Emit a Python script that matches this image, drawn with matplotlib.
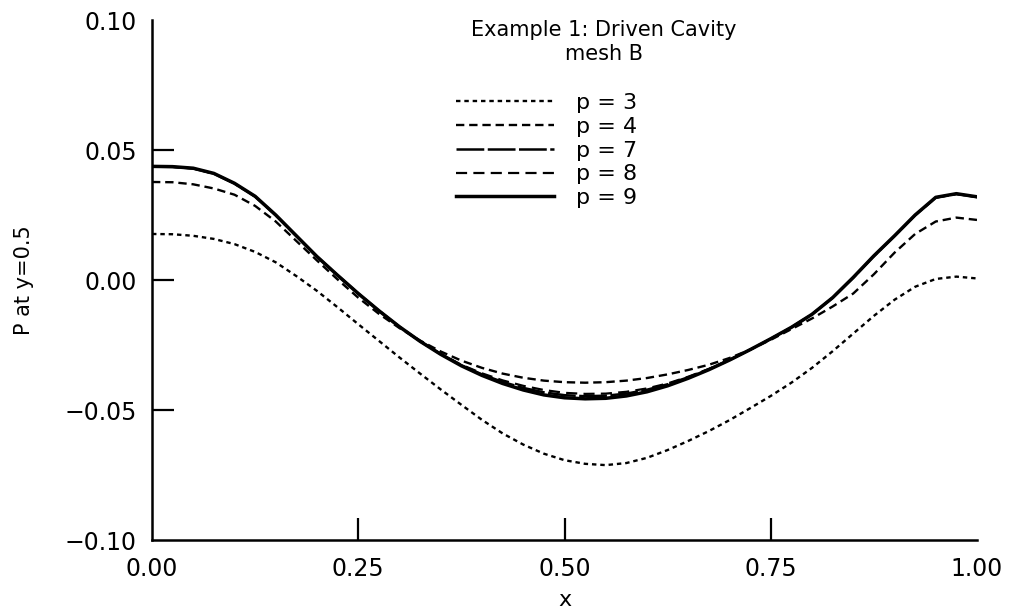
import matplotlib
matplotlib.use("Agg")
import matplotlib.pyplot as plt

plt.rcParams['font.family'] = ['DejaVu Sans']
plt.rcParams['lines.scale_dashes'] = False

x = [0.000, 0.025, 0.050, 0.075, 0.100, 0.125, 0.150, 0.175, 0.200, 0.225,
     0.250, 0.275, 0.300, 0.325, 0.350, 0.375, 0.400, 0.425, 0.450, 0.475,
     0.500, 0.525, 0.550, 0.575, 0.600, 0.625, 0.650, 0.675, 0.700, 0.725,
     0.750, 0.775, 0.800, 0.825, 0.850, 0.875, 0.900, 0.925, 0.950, 0.975, 1.000]

p3 = [0.0177, 0.0176, 0.0170, 0.0158, 0.0138, 0.0108, 0.0068, 0.0015, -0.0042, -0.0105,
      -0.0170, -0.0234, -0.0298, -0.0360, -0.0421, -0.0480, -0.0538, -0.0590, -0.0633, -0.0668,
      -0.0693, -0.0707, -0.0712, -0.0704, -0.0684, -0.0654, -0.0619, -0.0581, -0.0539, -0.0493,
      -0.0446, -0.0395, -0.0338, -0.0274, -0.0206, -0.0138, -0.0076, -0.0026, 0.0004, 0.0013, 0.0006]

p4 = [0.0377, 0.0376, 0.0368, 0.0352, 0.0328, 0.0285, 0.0225, 0.0150, 0.0075, 0.0002,
      -0.0068, -0.0130, -0.0185, -0.0233, -0.0275, -0.0310, -0.0338, -0.0360, -0.0376, -0.0387,
      -0.0393, -0.0395, -0.0393, -0.0387, -0.0377, -0.0363, -0.0346, -0.0326, -0.0300, -0.0268,
      -0.0230, -0.0189, -0.0148, -0.0102, -0.0052, 0.0022, 0.0105, 0.0177, 0.0225, 0.0240, 0.0231]

p7 = [0.0436, 0.0435, 0.0429, 0.0409, 0.0371, 0.0321, 0.0249, 0.0169, 0.0090, 0.0018,
      -0.0052, -0.0118, -0.0180, -0.0236, -0.0285, -0.0328, -0.0363, -0.0392, -0.0415, -0.0432,
      -0.0443, -0.0447, -0.0445, -0.0437, -0.0422, -0.0401, -0.0374, -0.0343, -0.0308, -0.0268,
      -0.0226, -0.0182, -0.0132, -0.0068, 0.0009, 0.0092, 0.0169, 0.0249, 0.0317, 0.0331, 0.0319]

p8 = [0.0436, 0.0435, 0.0429, 0.0409, 0.0371, 0.0321, 0.0249, 0.0169, 0.0090, 0.0018,
      -0.0052, -0.0118, -0.0180, -0.0236, -0.0284, -0.0326, -0.0359, -0.0386, -0.0407, -0.0423,
      -0.0434, -0.0438, -0.0437, -0.0430, -0.0417, -0.0398, -0.0372, -0.0342, -0.0307, -0.0268,
      -0.0226, -0.0182, -0.0132, -0.0068, 0.0009, 0.0092, 0.0169, 0.0249, 0.0317, 0.0331, 0.0319]

p9 = [0.0437, 0.0436, 0.0430, 0.0410, 0.0372, 0.0322, 0.0250, 0.0170, 0.0090, 0.0018,
      -0.0052, -0.0118, -0.0180, -0.0236, -0.0286, -0.0330, -0.0367, -0.0398, -0.0423, -0.0442,
      -0.0453, -0.0457, -0.0455, -0.0446, -0.0430, -0.0407, -0.0378, -0.0345, -0.0308, -0.0268,
      -0.0226, -0.0182, -0.0132, -0.0068, 0.0010, 0.0093, 0.0170, 0.0250, 0.0318, 0.0332, 0.0320]

series = [("p = 3", p3), ("p = 4", p4), ("p = 7", p7), ("p = 8", p8), ("p = 9", p9)]

x_ticks = [0.00, 0.25, 0.50, 0.75, 1.00]
x_ticklabels = ["0.00", "0.25", "0.50", "0.75", "1.00"]
y_ticks = [-0.10, -0.05, 0.00, 0.05, 0.10]
y_ticklabels = ["\u22120.10", "\u22120.05", "0.00", "0.05", "0.10"]

title_lines = ["Example 1: Driven Cavity", "mesh B"]
xlabel = "x"
ylabel = "P at y=0.5"

styles = [
    dict(color="black", lw=1.7, linestyle=(0, (3.2, 2.8))),
    dict(color="black", lw=1.7, linestyle=(0, (6.0, 3.5))),
    dict(color="black", lw=1.8, linestyle=(0, (20.0, 2.5))),
    dict(color="black", lw=1.6, linestyle=(0, (8.0, 4.5))),
    dict(color="black", lw=2.5, linestyle="-"),
]

fig = plt.figure(figsize=(10.10, 6.15), dpi=100)
ax = fig.add_axes([152/1010, 1 - 540/615, (977-152)/1010, (540-20)/615])

handles = []
for (lab, ys), st in zip(series, styles):
    h, = ax.plot(x, ys, label=lab, **st)
    handles.append(h)

ax.set_xlim(0, 1)
ax.set_ylim(-0.10, 0.10)
ax.spines['top'].set_visible(False)
ax.spines['right'].set_visible(False)
for s in ('left', 'bottom'):
    ax.spines[s].set_linewidth(1.8)

ax.set_xticks(x_ticks)
ax.set_xticklabels(x_ticklabels)
ax.set_yticks(y_ticks)
ax.set_yticklabels(y_ticklabels)
ax.tick_params(axis='both', which='major', direction='in', length=16, width=1.6,
               labelsize=17)
ax.tick_params(axis='x', which='major', pad=12)
ax.tick_params(axis='y', which='major', pad=11)
# the end ticks coincide with the axes frame in the reference: hide their marks
for t in (ax.xaxis.get_major_ticks()[0], ax.xaxis.get_major_ticks()[-1],
          ax.yaxis.get_major_ticks()[0], ax.yaxis.get_major_ticks()[-1]):
    t.tick1line.set_visible(False)

ax.set_xlabel(xlabel, fontsize=16, labelpad=7)
ax.set_ylabel(ylabel, fontsize=15, labelpad=22)

fig.text(604/1010, 1 - 30/615, title_lines[0], ha='center', va='center', fontsize=15)
fig.text(604/1010, 1 - 54/615, title_lines[1], ha='center', va='center', fontsize=15)

leg = ax.legend(handles=handles, loc='upper left', frameon=False, fontsize=16,
                bbox_to_anchor=(456/1010, 1 - 93/615), bbox_transform=fig.transFigure,
                handlelength=4.4, handletextpad=1.0, labelspacing=0.17, borderpad=0,
                borderaxespad=0)

fig.savefig("out.png", dpi=100)
